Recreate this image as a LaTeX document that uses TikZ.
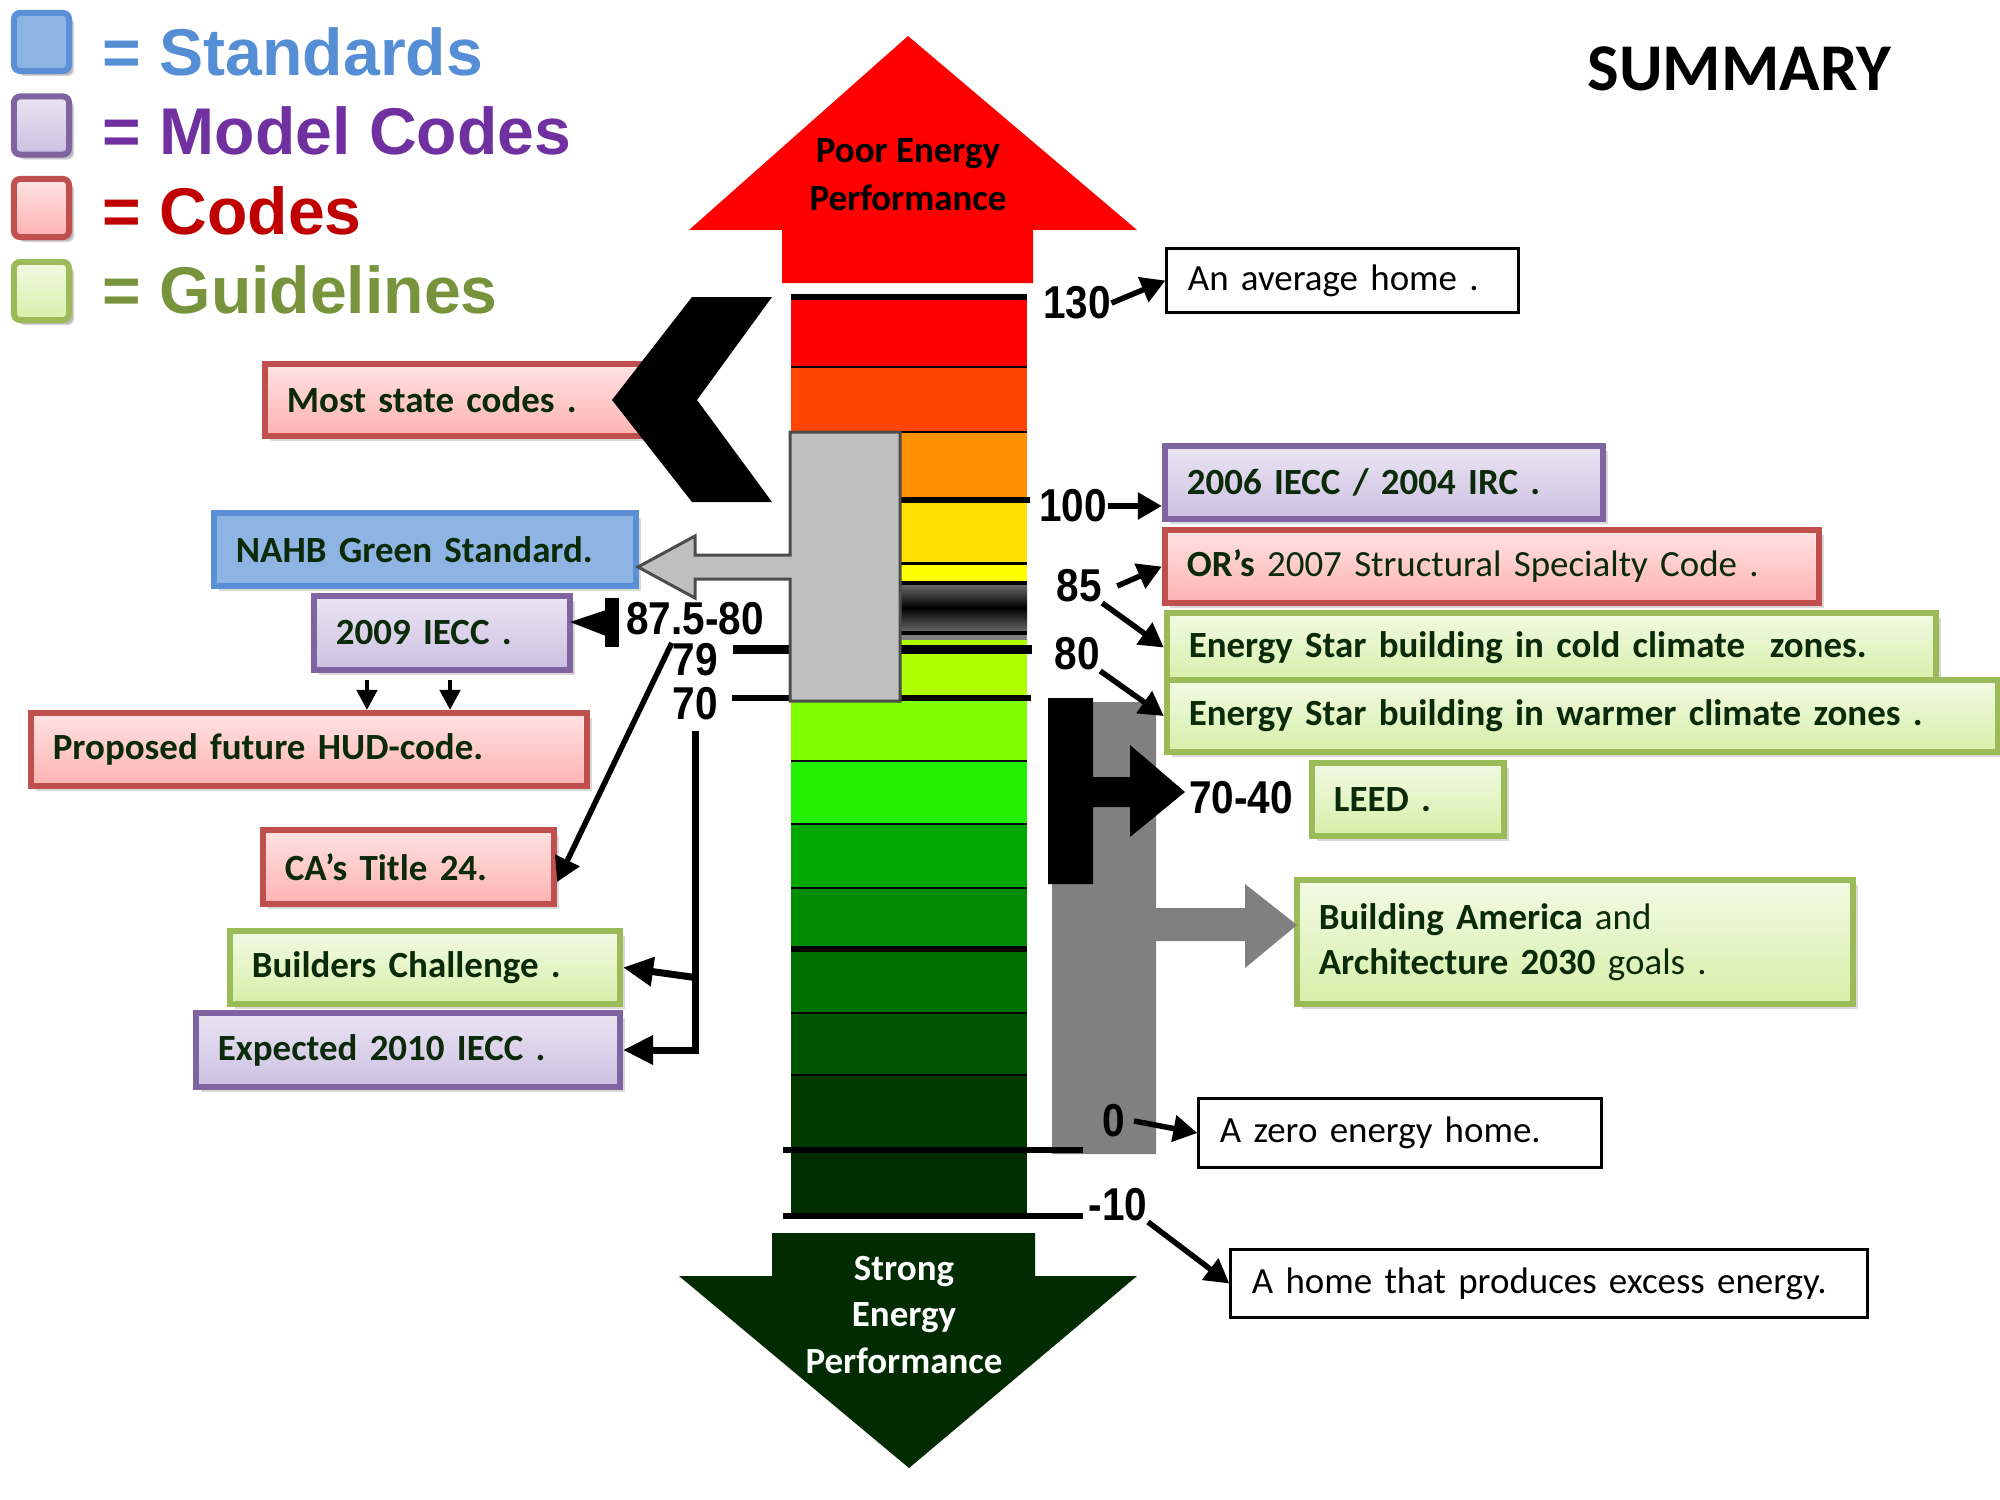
\documentclass[tikz,border=0pt]{standalone}
\usepackage{fontspec}
\setmainfont{Carlito}
\newfontfamily\legendfont{Liberation Sans}
\newfontfamily\numfont{Liberation Sans}[FakeStretch=0.88]
\usetikzlibrary{arrows.meta,shadows}

\definecolor{stdline}{HTML}{5B8FD6}
\definecolor{stdfill}{HTML}{8DB4E2}
\definecolor{modelline}{HTML}{8064A2}
\definecolor{modeltop}{HTML}{EAE4F2}
\definecolor{modelbot}{HTML}{CDC0E2}
\definecolor{codeline}{HTML}{C0504D}
\definecolor{codetop}{HTML}{FFE2E2}
\definecolor{codebot}{HTML}{FFB2B2}
\definecolor{guideline}{HTML}{9BBB59}
\definecolor{guidetop}{HTML}{F2FAE4}
\definecolor{guidebot}{HTML}{D6EFA8}
\definecolor{boxtext}{HTML}{0A2A0A}
\definecolor{stdtext}{HTML}{558ED5}
\definecolor{modeltext}{HTML}{7030A0}
\definecolor{codetext}{HTML}{C00000}
\definecolor{guidetext}{HTML}{77933C}
\definecolor{bandA}{HTML}{FF0000}
\definecolor{bandB}{HTML}{FF4500}
\definecolor{bandC}{HTML}{FF9000}
\definecolor{bandD}{HTML}{FFE000}
\definecolor{bandE}{HTML}{FFFF00}
\definecolor{bandF}{HTML}{B0FF00}
\definecolor{bandG}{HTML}{7FFF00}
\definecolor{bandH}{HTML}{22F000}
\definecolor{bandI}{HTML}{00A800}
\definecolor{bandJ}{HTML}{008C00}
\definecolor{bandK}{HTML}{007000}
\definecolor{bandL}{HTML}{005600}
\definecolor{bandM}{HTML}{003A00}
\definecolor{bandN}{HTML}{002E00}
\definecolor{strongfill}{HTML}{012B01}
\definecolor{lightgray}{HTML}{BFBFBF}
\definecolor{midgray}{HTML}{808080}

\begin{document}
\begin{tikzpicture}[x=0.01cm,y=-0.01cm]
	\tikzset{
		box/.style = {draw, line width=0.06cm, inner xsep=0.22cm, inner ysep=0pt, align=left, text=boxtext,
			font=\fontsize{10.5}{12.8}\selectfont\bfseries,
			drop shadow={shadow xshift=0.05cm, shadow yshift=-0.05cm, opacity=0.3}},
		stdbox/.style = {box, draw=stdline, fill=stdfill},
		modelbox/.style = {box, draw=modelline, top color=modeltop, bottom color=modelbot},
		codebox/.style = {box, draw=codeline, top color=codetop, bottom color=codebot},
		guidebox/.style = {box, draw=guideline, top color=guidetop, bottom color=guidebot},
		homebox/.style = {draw, line width=0.03cm, fill=white, inner xsep=0.21cm, inner ysep=0pt, align=left,
			font=\fontsize{10.5}{12.8}\selectfont},
		key/.style = {line width=0.05cm, rounded corners=0.06cm, minimum width=0.55cm, minimum height=0.58cm, inner sep=0pt,
			drop shadow={shadow xshift=0.04cm, shadow yshift=-0.04cm, opacity=0.3}},
		keytext/.style = {anchor=base west, inner sep=0pt, font=\legendfont\bfseries\fontsize{18.8}{22}\selectfont},
		num/.style = {inner sep=0pt, font=\numfont\bfseries\fontsize{13.1}{15}\selectfont},
		numarrow/.style = {line width=0.055cm, -{Triangle[length=0.24cm,width=0.26cm]}},
		branch/.style = {line width=0.07cm, -{Triangle[length=0.3cm,width=0.28cm]}},
		drop/.style = {line width=0.045cm, -{Triangle[length=0.2cm,width=0.2cm]}}
	}

	\useasboundingbox (0,0) rectangle (2000,1500);

	% legend
	\node[key, stdbox, draw=stdline] (kstd) at (41.5,42) {};
	\node[key, modelbox] (kmodel) at (41.5,125.5) {};
	\node[key, codebox] (kcode) at (41.5,208) {};
	\node[key, guidebox] (kguide) at (41.5,291) {};
	\node[keytext, text=stdtext] (tstd) at (102,76) {= Standards};
	\node[keytext, text=modeltext] (tmodel) at (102,155) {= Model Codes};
	\node[keytext, text=codetext] (tcode) at (102,235) {= Codes};
	\node[keytext, text=guidetext] (tguide) at (102,314) {= Guidelines};
	\node[anchor=base west, inner sep=0pt, font=\bfseries\fontsize{19}{22}\selectfont] (title) at (1587,91) {SUMMARY};

	% boxes on the left
	\node[codebox, text width=3.41cm, minimum height=0.72cm] (most) at (457.5,400) {Most state codes .};
	\node[stdbox, text width=3.78cm, minimum height=0.73cm] (nahb) at (425,549.5) {NAHB Green Standard.};
	\node[modelbox, text width=2.12cm, minimum height=0.74cm] (iecc09) at (442,633) {2009 IECC .};
	\node[codebox, text width=5.12cm, minimum height=0.73cm] (hud) at (309,749.5) {Proposed future HUD-code.};
	\node[codebox, text width=2.47cm, minimum height=0.74cm] (title24) at (408.5,867) {CA’s Title 24.};
	\node[guidebox, text width=3.46cm, minimum height=0.73cm] (builders) at (425,967.5) {Builders Challenge .};
	\node[modelbox, text width=3.80cm, minimum height=0.74cm] (iecc10) at (408,1050) {Expected 2010 IECC .};

	% boxes on the right
	\node[homebox, text width=3.09cm, minimum height=0.63cm] (average) at (1342.5,280.5) {An average home .};
	\node[modelbox, text width=3.94cm, minimum height=0.73cm] (iecc06) at (1384,482.5) {2006 IECC / 2004 IRC .};
	\node[codebox, text width=6.10cm, minimum height=0.73cm, font=\fontsize{10.5}{12.8}\selectfont] (oregon) at (1492,566.5) {\textbf{OR’s} 2007 Structural Specialty Code .};
	\node[guidebox, text width=7.25cm, minimum height=0.69cm] (starcold) at (1551.5,647.5) {Energy Star building in cold climate \ zones.};
	\node[guidebox, text width=7.87cm, minimum height=0.72cm] (starwarm) at (1582.5,716) {Energy Star building in warmer climate zones .};
	\node[guidebox, text width=1.48cm, minimum height=0.73cm] (leed) at (1408,799.5) {LEED .};
	\node[guidebox, text width=5.12cm, minimum height=1.24cm, font=\fontsize{10.5}{12.8}\selectfont] (buildam) at (1575,942) {\textbf{Building America} and\\\textbf{Architecture 2030} goals .};
	\node[homebox, text width=3.60cm, minimum height=0.68cm] (zero) at (1400,1133) {A zero energy home.};
	\node[homebox, text width=5.94cm, minimum height=0.67cm] (excess) at (1549,1283.5) {A home that produces excess energy.};

	% arrows at both ends of the scale
	\fill[red] (782,283) -- (782,230) -- (689,230) -- (908,36) -- (1137,230) -- (1033,230) -- (1033,283) -- cycle;
	\fill[strongfill] (772,1233) -- (1035,1233) -- (1035,1276) -- (1137,1276) -- (909,1468) -- (679,1276) -- (772,1276) -- cycle;
	\node[align=center, font=\bfseries\fontsize{10.5}{13.7}\selectfont] (poor) at (908,175) {Poor Energy\\Performance};
	\node[align=center, text=white, font=\bfseries\fontsize{10.5}{13.2}\selectfont] (strong) at (904,1315) {Strong\\Energy\\Performance};

	% the scale
	\foreach \ya/\yb/\col in {300/367/bandA, 367/432/bandB, 432/500/bandC, 500/563/bandD, 563/583/bandE,
		633/640/midgray, 640/698/bandF, 698/761/bandG, 761/824/bandH, 824/888/bandI, 888/948/bandJ,
		948/1013/bandK, 1013/1075/bandL, 1075/1150/bandM, 1150/1216/bandN}
		\fill[\col] (791,\ya) rectangle (1027,\yb);
	\shade[top color=black!60, bottom color=black!60, middle color=black] (791,585) rectangle (1027,631);

	\fill[midgray] (1052,702) -- (1156,702) -- (1156,908) -- (1245,908) -- (1245,884) -- (1297,925)
		-- (1245,968) -- (1245,941) -- (1156,941) -- (1156,1154) -- (1052,1154) -- cycle;

	\foreach \y/\w in {367/0.02cm, 432/0.02cm, 563/0.03cm, 583/0.04cm, 633/0.04cm, 761/0.02cm,
		824/0.02cm, 888/0.02cm, 1013/0.02cm, 1075/0.02cm, 297/0.06cm, 948.5/0.06cm}
		\draw[line width=\w] (791,\y) -- (1027,\y);
	\draw[line width=0.06cm] (791,500) -- (1030,500);
	\draw[line width=0.09cm] (733,649.5) -- (1032,649.5);
	\draw[line width=0.06cm] (732,698) -- (1031,698);
	\draw[line width=0.06cm] (783,1150) -- (1083,1150);
	\draw[line width=0.06cm] (783,1216) -- (1083,1216);

	\filldraw[fill=lightgray, draw=black!70, line width=0.03cm] (900,432) -- (790,432) -- (790,555) -- (695,555)
		-- (695,536) -- (638,567) -- (695,598) -- (695,579) -- (790,579) -- (790,701) -- (900,701) -- cycle;

	\fill (1048,698) -- (1093,698) -- (1093,777) -- (1130,777) -- (1130,745) -- (1185,792) -- (1130,837)
		-- (1130,807) -- (1093,807) -- (1093,884) -- (1048,884) -- cycle;
	\fill (772,297) -- (692,297) -- (612,400) -- (692,502) -- (772,502) -- (697,400) -- cycle;
	\fill (605,598) rectangle (619,647);
	\fill (606,610) -- (570,622) -- (606,636) -- cycle;

	% values
	\node[num] (n130) at (1077,303) {130};
	\node[num] (n100) at (1073,506) {100};
	\node[num] (n85) at (1079,586) {85};
	\node[num] (n80) at (1077,654) {80};
	\node[num] (n875) at (695,619) {87.5-80};
	\node[num] (n79) at (695,660) {79};
	\node[num] (n70) at (695,704) {70};
	\node[num] (n7040) at (1241,798) {70-40};
	\node[num] (n0) at (1114,1121) {0};
	\node[num] (nm10) at (1118,1205) {-10};

	\draw[numarrow] (n130.east) -- (average.west);
	\draw[numarrow] (n100.east) -- (n100.east -| iecc06.west);
	\draw[numarrow] ([xshift=0.15cm]n85.east) -- (oregon.west);
	\draw[numarrow] (n85.south east) -- (starcold.west);
	\draw[numarrow] (n80.south east) -- (starwarm.west);
	\draw[numarrow] ([xshift=0.08cm]n0.east) -- (zero.west);
	\draw[numarrow] (nm10.south east) -- (excess.west);
	\draw[numarrow] (n79.north west) -- ([yshift=-0.15cm]title24.east);
	\draw[branch] ([yshift=-0.1cm]n70.south) |- (iecc10.east);
	\draw[branch] ([yshift=-0.1cm]n70.south |- builders.east) -- (builders.east);
	\draw[drop] ([xshift=-0.75cm,yshift=-0.07cm]iecc09.south) -- ([xshift=-0.75cm]iecc09.south |- hud.north);
	\draw[drop] ([xshift=0.08cm,yshift=-0.07cm]iecc09.south) -- ([xshift=0.08cm]iecc09.south |- hud.north);

\end{tikzpicture}
\end{document}
